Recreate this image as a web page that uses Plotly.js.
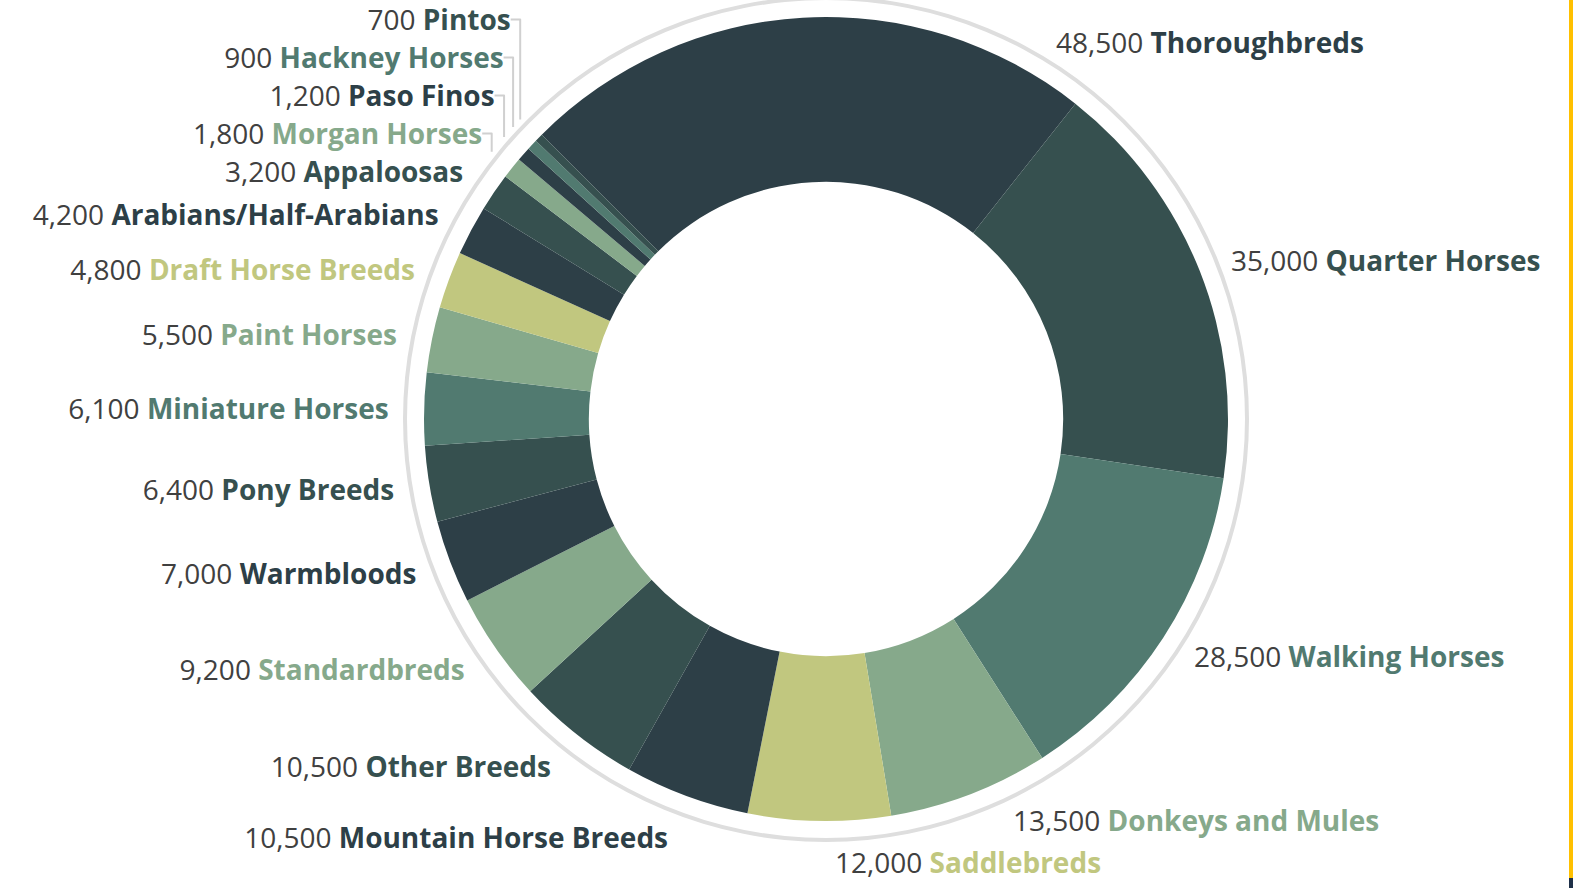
<!DOCTYPE html>
<html>
<head>
<meta charset="utf-8">
<script src="https://cdn.plot.ly/plotly-3.0.1.min.js"></script>
<style>
html, body { margin: 0; padding: 0; background: #ffffff; overflow: hidden; width: 1573px; height: 888px; }
#wrap { position: absolute; left: 0; top: 0; width: 1573px; height: 888px; overflow: hidden; }
#chart { position: absolute; left: 0; top: -100px; width: 1573px; height: 1088px; }
#edge { position: absolute; right: 0; top: 0; width: 4px; height: 878px; background: #FFC000; }
#edge2 { position: absolute; right: 0; top: 878px; width: 4px; height: 10px; background: #1F3048; }
</style>
</head>
<body>
<div id="wrap"><div id="chart"></div><div id="edge"></div><div id="edge2"></div></div>
<script>
// ---- data ----
const breeds = [
  "Thoroughbreds", "Quarter Horses", "Walking Horses", "Donkeys and Mules", "Saddlebreds",
  "Mountain Horse Breeds", "Other Breeds", "Standardbreds", "Warmbloods", "Pony Breeds",
  "Miniature Horses", "Paint Horses", "Draft Horse Breeds", "Arabians/Half-Arabians",
  "Appaloosas", "Morgan Horses", "Paso Finos", "Hackney Horses", "Pintos"
];
const counts = [
  48500, 35000, 28500, 13500, 12000,
  10500, 10500, 9200, 7000, 6400,
  6100, 5500, 4800, 4200,
  3200, 1800, 1200, 900, 700
];
const DARK = "#2d3f47", SLATE = "#36504f", TEAL = "#517a70", SAGE = "#86a98b", OLIVE = "#c1c77f";
const sliceColors = [
  DARK, SLATE, TEAL, SAGE, OLIVE,
  DARK, SLATE, SAGE, DARK, SLATE,
  TEAL, SAGE, OLIVE, DARK,
  SLATE, SAGE, DARK, TEAL, SLATE
];
const labelColors = sliceColors.slice();

// ---- geometry (plot px; plot div is 1573 x 1088, shifted up 100px) ----
const W = 1573, H = 1088, SHIFT = 100, VIEW_H = 888;
const cx = 826, cy = 519;
function dom(r) {
  const yb = H - cy;
  return { x: [(cx - r) / W, (cx + r) / W], y: [(yb - r) / H, (yb + r) / H] };
}
const ROT = -45;
const FONT = "Open Sans, Noto Sans, DejaVu Sans, sans-serif";
const FSIZE = 28;
const LABEL_R = 428;
const NUM_COLOR = "#404040";
const HALF_H = 15;                 // half glyph height of a label
const GAP = 1.5 * FSIZE;           // min distance between stacked label centres
const TOP_Y = SHIFT + 42, BOT_Y = SHIFT + VIEW_H - 21;

function fmt(v) { return v.toLocaleString("en-US"); }
function labelHtml(i) {
  return "<span style='color:" + NUM_COLOR + "'>" + fmt(counts[i]) + "</span> <b><span style='color:" +
         labelColors[i] + "'>" + breeds[i] + "</span></b>";
}

// mid angles of the slices (clockwise from 12 o'clock)
const total = counts.reduce((a, b) => a + b, 0);
const mids = [];
{ let acc = 0; counts.forEach(v => { mids.push((ROT + (acc + v / 2) / total * 360) * Math.PI / 180); acc += v; }); }

// right column: slices on the right half, plus any whose label has no room at the top/bottom
const right = [];
mids.forEach((m, i) => {
  const yNat = cy - LABEL_R * Math.cos(m);
  const out = (yNat < TOP_Y + 2 * HALF_H) || (yNat > BOT_Y - 2 * HALF_H);
  if (Math.sin(m) > 0 || out) {
    const yc = yNat - HALF_H * Math.sign(Math.cos(m)) * Math.cos(m) * Math.cos(m);
    right.push({ i: i, y: Math.min(BOT_Y, Math.max(TOP_Y, yc)) });
  }
});
// stack from the bottom up so labels do not collide
right.sort((a, b) => b.y - a.y);
for (let k = 1; k < right.length; k++) right[k].y = Math.min(right[k].y, right[k - 1].y - GAP);
const rightIdx = right.map(r => r.i);

const annotations = right.map(r => {
  const up = r.y < cy;
  const cornerY = up ? r.y + HALF_H : r.y - HALF_H;      // nearest text corner to the pie
  const dy = cornerY - cy;
  const x = cx + Math.sqrt(Math.max(0, LABEL_R * LABEL_R - dy * dy));
  return {
    xref: "paper", yref: "paper",
    x: x / W, y: 1 - r.y / H,
    xanchor: "left", yanchor: "middle",
    showarrow: false,
    text: labelHtml(r.i),
    font: { family: FONT, size: FSIZE, color: NUM_COLOR }
  };
});

const donut = {
  type: "pie",
  labels: breeds,
  values: counts,
  sort: false,
  direction: "clockwise",
  rotation: ROT,
  hole: 0.59,
  domain: dom(402),
  marker: { colors: sliceColors, line: { width: 0 } },
  textinfo: "none",
  hoverinfo: "label+value",
  showlegend: false
};

const ring = {
  type: "pie",
  labels: ["ring"],
  values: [1],
  sort: false,
  hole: 419 / 423,
  domain: dom(423),
  marker: { colors: ["#dedede"], line: { width: 0 } },
  textinfo: "none",
  hoverinfo: "skip",
  showlegend: false
};

// left column: the library's own outside labels (with its leader lines)
const labelsTrace = {
  type: "pie",
  labels: breeds,
  values: counts,
  sort: false,
  direction: "clockwise",
  rotation: ROT,
  hole: 0.995,
  domain: dom(LABEL_R),
  marker: { colors: breeds.map(() => "rgba(0,0,0,0)"), line: { width: 0 } },
  customdata: labelColors,
  textposition: breeds.map((b, i) => rightIdx.includes(i) ? "none" : "outside"),
  texttemplate: "<span style='color:" + NUM_COLOR + "'>%{value:,}</span> <b><span style='color:%{customdata}'>%{label}</span></b>",
  outsidetextfont: { family: FONT, size: FSIZE, color: "#d0d0d0" },
  hoverinfo: "skip",
  showlegend: false,
  automargin: false
};

const layout = {
  width: W,
  height: H,
  margin: { l: 0, r: 0, t: 0, b: 0 },
  paper_bgcolor: "#ffffff",
  plot_bgcolor: "#ffffff",
  font: { family: FONT, color: NUM_COLOR },
  showlegend: false,
  annotations: annotations
};

Plotly.newPlot("chart", [ring, donut, labelsTrace], layout, { displayModeBar: false, staticPlot: true });
</script>
</body>
</html>
